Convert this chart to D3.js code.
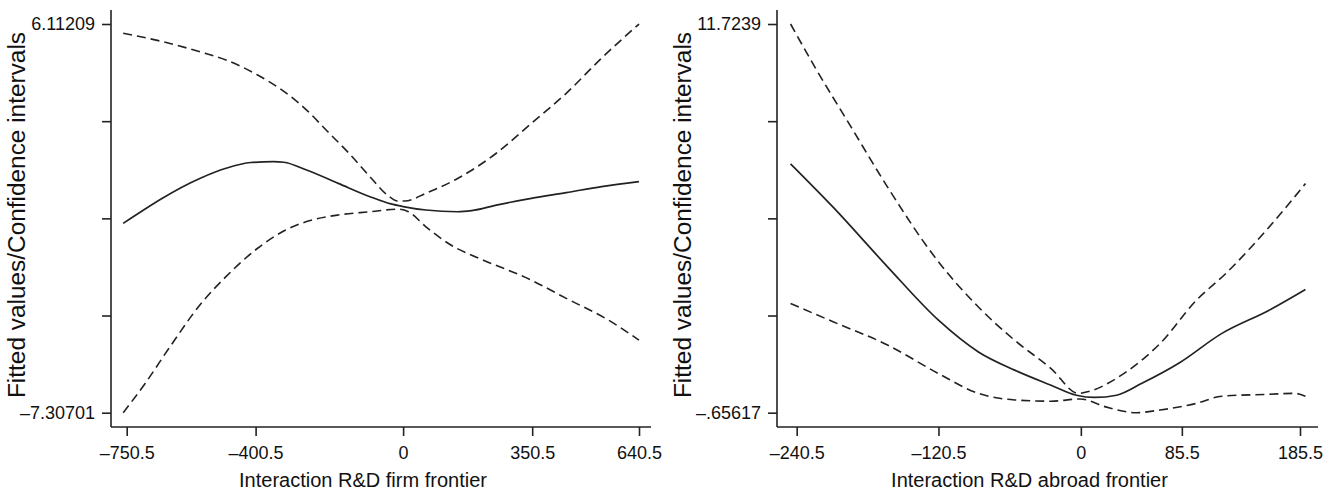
<!DOCTYPE html>
<html>
<head>
<meta charset="utf-8">
<script src="https://cdn.jsdelivr.net/npm/d3@7"></script>
<style>
  html, body { margin: 0; padding: 0; background: #fff; }
  svg { display: block; }
  .tick-label { font-family: "Liberation Sans Narrow", "Arial Narrow", "Liberation Sans", Arial, sans-serif; font-size: 18px; fill: #111; }
  .axis-title { font-family: "Liberation Sans", Arial, Helvetica, sans-serif; fill: #111; }
</style>
</head>
<body>
<svg id="chart" width="1330" height="497"></svg>
<script>
// ---------- Left panel data: Interaction R&D firm frontier ----------
const leftXTicks = [-750.5, -400.5, 0, 350.5, 640.5];
const leftXTickLabels = ["\u2013750.5", "\u2013400.5", "0", "350.5", "640.5"];
const leftYMin = -7.30701;
const leftYMax = 6.11209;
const leftYTickLabels = ["\u20137.30701", "", "", "", "6.11209"];

const leftFitX = [-760, -552, -481, -414, -352, -324, -262, -176, -90, -33, 0, 62, 148, 186, 253, 348, 443, 539, 640.5];
const leftFitY = [-0.77, 0.78, 1.13, 1.33, 1.36, 1.34, 1.07, 0.61, 0.15, -0.10, -0.19, -0.31, -0.37, -0.33, -0.14, 0.09, 0.29, 0.50, 0.67];

const leftUpperX = [-760, -652, -538, -481, -395, -328.5, -262, -205, -147, -90, -43, -14, 5, 62, 148, 253, 348, 443, 538.5, 640.5];
const leftUpperY = [5.79, 5.50, 5.10, 4.87, 4.35, 3.83, 3.14, 2.40, 1.65, 0.84, 0.21, 0.00, 0.00, 0.27, 0.78, 1.65, 2.68, 3.72, 4.93, 6.11209];

const leftLowerX = [-760, -700, -633, -548, -481, -395, -319, -262, -176, -90, -14, 14.5, 62, 138, 195.5, 348, 443, 557.5, 640.5];
const leftLowerY = [-7.30701, -6.29, -5.03, -3.53, -2.61, -1.63, -1.00, -0.71, -0.48, -0.37, -0.28, -0.37, -0.89, -1.58, -1.92, -2.73, -3.36, -4.11, -4.80];

// ---------- Right panel data: Interaction R&D abroad frontier ----------
const rightXTicks = [-240.5, -120.5, 0, 85.5, 185.5];
const rightXTickLabels = ["\u2013240.5", "\u2013120.5", "0", "85.5", "185.5"];
const rightYMin = -0.65617;
const rightYMax = 11.7239;
const rightYTickLabels = ["\u2013.65617", "", "", "", "11.7239"];

const rightFitX = [-245.7, -209.7, -163.6, -120.5, -86.7, -56, -25.2, -3.7, 11.7, 30.2, 51.7, 82.5, 119.4, 159.4, 190.1];
const rightFitY = [7.27, 5.89, 3.99, 2.29, 1.28, 0.70, 0.22, -0.10, -0.17, -0.10, 0.28, 0.91, 1.87, 2.61, 3.27];

const rightUpperX = [-245.7, -225.1, -194.4, -163.6, -123.6, -86.7, -56, -25.2, -2.1, 5.6, 36.3, 67.1, 97.9, 122.5, 159.4, 190.1];
const rightUpperY = [11.7239, 10.35, 8.44, 6.53, 4.30, 2.71, 1.65, 0.75, -0.04, 0.01, 0.59, 1.55, 2.93, 3.77, 5.26, 6.64];

const rightLowerX = [-245.7, -209.7, -163.6, -120.5, -86.7, -56, -25.2, -0.6, 21, 47.1, 67.1, 97.9, 119.4, 159.4, 180.9, 190.1];
const rightLowerY = [2.82, 2.24, 1.50, 0.59, -0.04, -0.25, -0.29, -0.22, -0.47, -0.65617, -0.57, -0.36, -0.13, -0.07, -0.04, -0.13];

const yTitle = "Fitted values/Confidence intervals";
const leftXTitle = "Interaction R&D firm frontier";
const rightXTitle = "Interaction R&D abroad frontier";

// ---------- Drawing ----------
const svg = d3.select("#chart");
const zip = (xs, ys) => xs.map((x, i) => ({ x, y: ys[i] }));

function drawPanel(p) {
  const g = svg.append("g");
  const x = d3.scaleLinear().domain([p.xTicks[0], p.xTicks[p.xTicks.length - 1]]).range([p.xr0, p.xr1]);
  const y = d3.scaleLinear().domain([p.yMin, p.yMax]).range([p.yr0, p.yr1]);
  const yTicks = d3.range(5).map(i => p.yMin + (p.yMax - p.yMin) * i / 4);

  // y axis
  const yAxis = d3.axisLeft(y).tickValues(yTicks).tickSize(9).tickPadding(7)
    .tickFormat((d, i) => p.yTickLabels[i]);
  const ya = g.append("g").attr("transform", `translate(${p.axisX},0)`).call(yAxis);
  ya.select(".domain").attr("d", `M0,${p.axisTop}V${p.axisBottom}`);

  // x axis
  const xAxis = d3.axisBottom(x).tickValues(p.xTicks).tickSize(9).tickPadding(10)
    .tickFormat((d, i) => p.xTickLabels[i]);
  const xa = g.append("g").attr("transform", `translate(0,${p.axisBottom})`).call(xAxis);
  xa.select(".domain").attr("d", `M${p.axisX},0H${p.axisRight}`);

  [ya, xa].forEach(a => {
    a.attr("font-size", null).attr("font-family", null);
    a.selectAll(".domain").attr("stroke", "#222").attr("stroke-width", 1.6).attr("fill", "none");
    a.selectAll(".tick line").attr("stroke", "#222").attr("stroke-width", 1.6);
    a.selectAll(".tick text").attr("class", "tick-label");
  });

  const line = d3.line().x(d => x(d.x)).y(d => y(d.y)).curve(d3.curveMonotoneX);

  g.append("path").datum(zip(p.upperX, p.upperY)).attr("d", line)
    .attr("fill", "none").attr("stroke", "#222").attr("stroke-width", 1.6).attr("stroke-dasharray", "9,5");
  g.append("path").datum(zip(p.lowerX, p.lowerY)).attr("d", line)
    .attr("fill", "none").attr("stroke", "#222").attr("stroke-width", 1.6).attr("stroke-dasharray", "9,5");
  g.append("path").datum(zip(p.fitX, p.fitY)).attr("d", line)
    .attr("fill", "none").attr("stroke", "#222").attr("stroke-width", 1.7);

  // titles
  g.append("text").attr("class", "axis-title")
    .attr("x", (p.axisX + p.axisRight) / 2 - 18).attr("y", 487)
    .attr("text-anchor", "middle").attr("font-size", 20)
    .text(p.xTitle);
  g.append("text").attr("class", "axis-title")
    .attr("transform", `translate(${p.yTitleX},215) rotate(-90)`)
    .attr("text-anchor", "middle").attr("font-size", 24.4)
    .text(yTitle);
}

drawPanel({
  xTicks: leftXTicks, xTickLabels: leftXTickLabels,
  yMin: leftYMin, yMax: leftYMax, yTickLabels: leftYTickLabels,
  fitX: leftFitX, fitY: leftFitY, upperX: leftUpperX, upperY: leftUpperY, lowerX: leftLowerX, lowerY: leftLowerY,
  xr0: 126.7, xr1: 639, yr0: 412.7, yr1: 24,
  axisX: 111, axisRight: 651, axisTop: 10, axisBottom: 427,
  xTitle: leftXTitle, yTitleX: 25
});

drawPanel({
  xTicks: rightXTicks, xTickLabels: rightXTickLabels,
  yMin: rightYMin, yMax: rightYMax, yTickLabels: rightYTickLabels,
  fitX: rightFitX, fitY: rightFitY, upperX: rightUpperX, upperY: rightUpperY, lowerX: rightLowerX, lowerY: rightLowerY,
  xr0: 796.7, xr1: 1300, yr0: 412.7, yr1: 24,
  axisX: 777, axisRight: 1318, axisTop: 10, axisBottom: 427,
  xTitle: rightXTitle, yTitleX: 691
});
</script>
</body>
</html>
